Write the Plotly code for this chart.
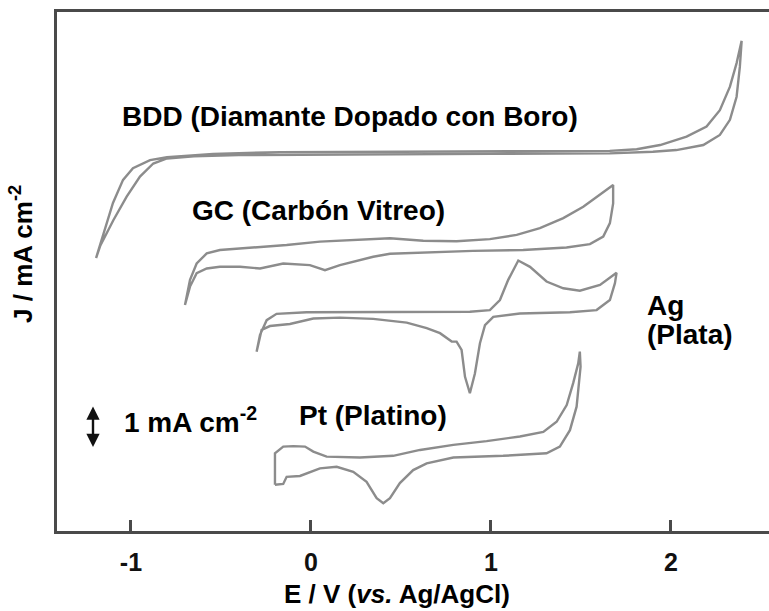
import plotly.graph_objects as go

# Cyclic voltammograms (potential E in V vs. Ag/AgCl, current density J in mA cm-2,
# each curve shifted vertically for display)

bdd_E = [-1.194, -1.144, -1.100, -1.044, -0.989, -0.894, -0.800, -0.544, -0.172, 0.50, 1.20,
         1.660, 1.810, 1.940, 2.087, 2.198, 2.272, 2.328, 2.365, 2.393,
         2.383, 2.365, 2.328, 2.272, 2.180, 2.030, 1.900, 1.660, 1.00, 0.30, -0.40,
         -0.650, -0.800, -0.876, -0.950, -1.024, -1.098, -1.170, -1.194]
bdd_J = [6.50, 7.17, 7.81, 8.36, 8.64, 8.83, 8.90, 8.98, 9.02, 9.03, 9.04,
         9.05, 9.09, 9.19, 9.39, 9.63, 10.02, 10.58, 11.14, 11.67,
         11.05, 10.34, 9.79, 9.43, 9.19, 9.07, 9.03, 8.99, 8.98, 8.97, 8.95,
         8.92, 8.87, 8.75, 8.44, 7.96, 7.40, 6.80, 6.50]

gc_E = [-0.700, -0.672, -0.635, -0.579, -0.506, -0.321, -0.135, 0.050, 0.235, 0.439, 0.624,
        0.809, 0.994, 1.143, 1.272, 1.402, 1.513, 1.606, 1.679,
        1.679, 1.661, 1.624, 1.550, 1.420, 1.179, 0.900, 0.624, 0.439, 0.346, 0.161,
        0.078, -0.006, -0.154, -0.283, -0.394, -0.506, -0.579, -0.635, -0.672, -0.700]
gc_J = [5.38, 5.98, 6.37, 6.61, 6.69, 6.75, 6.81, 6.89, 6.93, 6.97, 6.91,
        6.90, 6.95, 7.05, 7.21, 7.45, 7.72, 8.00, 8.24,
        7.80, 7.33, 7.01, 6.83, 6.75, 6.69, 6.67, 6.63, 6.60, 6.53, 6.33,
        6.21, 6.33, 6.37, 6.25, 6.29, 6.29, 6.25, 6.14, 5.82, 5.38]

ag_E = [-0.302, -0.283, -0.246, -0.191, -0.024, 0.161, 0.383, 0.717, 0.883, 0.994, 1.050,
        1.096, 1.152, 1.217, 1.309, 1.402, 1.494, 1.606, 1.698,
        1.689, 1.661, 1.587, 1.439, 1.161, 1.013, 0.967, 0.939, 0.911, 0.883, 0.856,
        0.837, 0.809, 0.782, 0.717, 0.643, 0.532, 0.346, 0.161, 0.013, -0.117,
        -0.228, -0.274, -0.302]
ag_J = [4.27, 4.67, 5.02, 5.17, 5.21, 5.21, 5.22, 5.21, 5.22, 5.26, 5.50,
        5.98, 6.44, 6.29, 5.94, 5.78, 5.72, 5.86, 6.15,
        5.90, 5.50, 5.26, 5.21, 5.18, 5.10, 4.90, 4.47, 3.75, 3.28, 3.67,
        4.31, 4.51, 4.51, 4.71, 4.83, 4.96, 5.05, 5.08, 5.06, 4.93,
        4.88, 4.79, 4.27]

pt_E = [-0.200, -0.200, -0.154, -0.098, -0.033, 0.013, 0.087, 0.272, 0.457, 0.606, 0.791,
        0.976, 1.161, 1.291, 1.365, 1.421, 1.457, 1.485, 1.494,
        1.498, 1.476, 1.439, 1.383, 1.309, 1.068, 0.791, 0.643, 0.568, 0.494, 0.439,
        0.402, 0.365, 0.309, 0.235, 0.143, 0.050, -0.061, -0.135, -0.154, -0.200]
pt_J = [1.10, 1.85, 2.01, 2.02, 2.01, 1.89, 1.77, 1.75, 1.79, 1.93, 2.05,
        2.14, 2.25, 2.36, 2.60, 3.00, 3.52, 3.99, 4.27,
        3.91, 2.96, 2.40, 2.01, 1.85, 1.79, 1.75, 1.61, 1.45, 1.14, 0.78,
        0.66, 0.78, 1.17, 1.41, 1.53, 1.49, 1.31, 1.29, 1.12, 1.10]

tick_vals = [-1, 0, 1, 2]
tick_text = ["-1", "0", "1", "2"]

curve_color = "#8c8c8c"
axis_color = "#4a4a4a"
font_family = "Liberation Sans, Arial, sans-serif"

fig = go.Figure()
for name, xs, ys in [("BDD", bdd_E, bdd_J), ("GC", gc_E, gc_J),
                     ("Ag", ag_E, ag_J), ("Pt", pt_E, pt_J)]:
    fig.add_trace(go.Scatter(
        x=xs, y=ys, mode="lines", name=name,
        line=dict(color=curve_color, width=2.4),
        showlegend=False, hoverinfo="skip"))

label_font = dict(family=font_family, size=28, color="#000000")
labels = [
    ("<b>BDD (Diamante Dopado con Boro)</b>", -1.061, 9.88),
    ("<b>GC (Carbón Vitreo)</b>", -0.672, 7.62),
    ("<b>Ag</b>", 1.856, 5.38),
    ("<b>(Plata)</b>", 1.856, 4.67),
    ("<b>Pt (Platino)</b>", -0.078, 2.74),
    ("<b>1 mA cm<sup>-2</sup></b>", -1.050, 2.64),
]
for text, x, y in labels:
    fig.add_annotation(x=x, y=y, xref="x", yref="y", text=text, showarrow=False,
                       xanchor="left", yanchor="middle", font=label_font)

# 1 mA cm-2 scale bar
fig.add_annotation(x=-1.211, y=2.0, ax=-1.211, ay=3.0, xref="x", yref="y",
                   axref="x", ayref="y", text="", showarrow=True,
                   arrowside="end+start", arrowhead=2, arrowsize=1.1,
                   arrowwidth=2.4, arrowcolor="#111111", standoff=0, startstandoff=0)

# axis titles
fig.add_annotation(x=0.4775, y=-0.122, xref="paper", yref="paper",
                   text="<b>E / V (<i>vs.</i> Ag/AgCl)</b>", showarrow=False,
                   xanchor="center", yanchor="middle",
                   font=dict(family=font_family, size=26, color="#000000"))
fig.add_annotation(x=-0.049, y=0.534, xref="paper", yref="paper",
                   text="<b>J / mA cm<sup>-2</sup></b>", showarrow=False, textangle=-90,
                   xanchor="center", yanchor="middle",
                   font=dict(family=font_family, size=26, color="#000000"))

fig.update_xaxes(range=[-1.411, 2.545], showgrid=False, zeroline=False,
                 showline=True, linecolor=axis_color, linewidth=2.6, mirror=True,
                 ticks="inside", ticklen=11, tickwidth=2.6, tickcolor=axis_color,
                 tickvals=tick_vals, ticktext=tick_text, ticklabelstandoff=7,
                 tickfont=dict(family=font_family, size=25, color="#111111", weight="bold"))
fig.update_yaxes(range=[0, 12.357], showgrid=False, zeroline=False,
                 showline=True, linecolor=axis_color, linewidth=2.6,
                 showticklabels=False, ticks="")

fig.update_layout(width=769, height=611, margin=dict(l=57, r=0, t=12, b=80),
                  plot_bgcolor="white", paper_bgcolor="white")

fig.write_html("out.html")
